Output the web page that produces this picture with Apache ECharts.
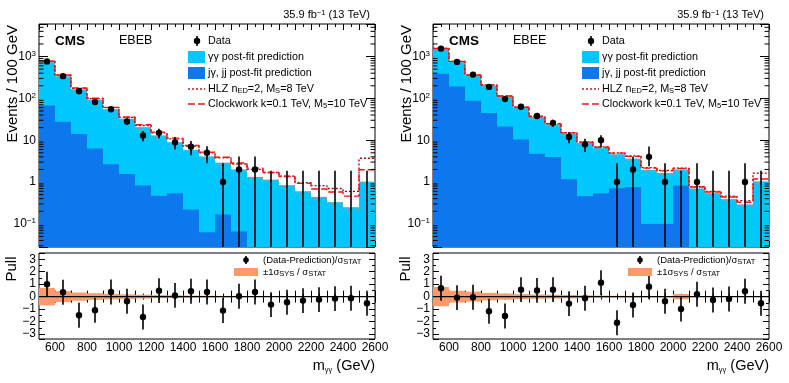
<!DOCTYPE html>
<html>
<head>
<meta charset="utf-8">
<script src="https://cdn.jsdelivr.net/npm/echarts@6/dist/echarts.min.js"></script>
<style>
html,body{margin:0;padding:0;background:#fff;}
#main{width:789px;height:383px;}
</style>
</head>
<body>
<div id="main"></div>
<script>
// lower bin edges, 100 GeV bins from 500 to 2600 GeV
var binLow = [500,600,700,800,900,1000,1100,1200,1300,1400,1500,1600,1700,1800,1900,2000,2100,2200,2300,2400,2500];
var xTicks = [600,800,1000,1200,1400,1600,1800,2000,2200,2400,2600];

// ---- EBEB (left) ----
var ebebData  = [765,340,148,82,55,28,13,15,9,7,5,1,2,2,0,0,0,0,0,0,0];
var ebebLo    = [737,322,136,73,48,23,9.4,11.1,6.0,4.4,2.8,0,0,0,0,0,0,0,0,0,0];
var ebebHi    = [793,358,160,91,62,33.3,16.6,18.9,12.0,9.6,7.2,2.8,4.1,4.1,1.85,1.85,1.85,1.85,1.85,1.85,1.85];
var ebebTotal = [735,340,165,93,55,32.5,20.5,13,8.9,5.8,4.1,2.9,2.0,1.32,1.13,0.84,0.6,0.44,0.33,0.25,1.02];
var ebebJet   = [68,27.5,14,6.3,2.65,1.55,0.83,0.47,0.54,0.22,0.063,0.167,0.066,0,0,0,0,0,0,0,0];
var ebebHLZ   = [772,358,174,99,60,35,22.5,15,10.8,7.2,5.0,3.8,2.7,2.0,1.69,1.38,0.97,0.82,0.7,0.6,3.7];
var ebebCW    = [775,362,177,101,61,36,23.5,15.6,11.2,7.5,5.2,3.9,2.85,2.15,1.69,1.36,0.93,0.68,0.58,0.46,1.96];
var ebebPull  = [1.0,0.35,-1.49,-1.09,0.37,-0.37,-1.63,0.48,0.1,0.43,0.37,-1.12,0.03,0.37,-0.64,-0.45,-0.32,-0.24,-0.16,-0.13,-0.53];
var ebebBand  = [0.7,0.44,0.33,0.27,0.22,0.18,0.15,0.12,0.1,0.08,0.07,0.06,0.05,0.03,0.03,0.02,0.02,0.02,0.02,0.02,0.02];

// ---- EBEE (right) ----
var ebeeData  = [1550,745,370,188,96,63,38,26,12,8,10,1,2,4,1,0,1,0,0,1,0];
var ebeeLo    = [1511,718,351,174,86,55,32,21,8.5,5.2,6.8,0,0,2.4,0,0,0,0,0,0,0];
var ebeeHi    = [1589,772,389,202,106,71,44,31,15.5,10.8,13.2,2.8,4.1,7.1,2.8,1.85,2.8,1.85,1.85,2.8,1.85];
var ebeeTotal = [1520,748,352,204,111,60,36,24,14.5,8.6,6.5,4.6,3.6,1.95,1.65,2.0,0.7,0.54,0.39,0.29,1.03];
var ebeeJet   = [390,192,88,45,21.3,10.4,4.75,3.95,1.16,0.46,0.54,0.71,0.76,0.1,0.1,0.82,0,0,0,0,0];
var ebeeHLZ   = [1565,768,363,210,115,62,37.5,25,15.2,9.1,6.9,5.0,4.2,2.2,1.9,2.15,0.78,0.6,0.46,0.36,1.64];
var ebeeCW    = [1560,765,361,209,114,61.5,37,24.8,15,8.9,6.8,4.9,4.1,2.15,1.85,2.12,0.76,0.58,0.44,0.33,1.18];
var ebeePull  = [0.67,-0.08,-0.05,-1.17,-1.55,0.56,0.5,0.56,-0.56,-0.13,1.12,-2.1,-0.67,0.8,-0.37,-0.99,0.19,-0.27,-0.19,0.43,-0.53];
var ebeeBand  = [0.77,0.47,0.4,0.3,0.25,0.2,0.17,0.15,0.13,0.1,0.08,0.07,0.06,0.05,0.05,0.21,0.02,0.02,0.02,0.02,0.02];

var YMIN = 0.028, YMAX = 6000;
var FONT = 'Liberation Sans, Arial, Helvetica, sans-serif';
var cCyan = '#00c8ff', cBlue = '#0d78ee', cOrange = '#ff9a6a', cHLZ = '#a00000', cCW = '#ff1010';

var myChart = echarts.init(document.getElementById('main'));

var grids = [], xAxes = [], yAxes = [], series = [], graphics = [];

// log minor tick values (2..9 x 10^k) for the top frames
var minorLog = [];
for (var e = -2; e <= 3; e++) {
  for (var m = 2; m <= 9; m++) {
    var t = m * Math.pow(10, e);
    if (t > YMIN && t < YMAX) minorLog.push([t]);
  }
}

function logLabel(v) {
  var l = Math.log(v) / Math.LN10;
  var k = Math.round(l);
  if (Math.abs(l - k) > 1e-6) return '';
  if (k === 0) return '1';
  if (k === 1) return '10';
  return '10{sup|' + (k < 0 ? '\u2212' + (-k) : k) + '}';
}

function histRect(color) {
  return function (params, api) {
    var v = api.value(2);
    if (!(v > 0)) return;
    var p0 = api.coord([api.value(0), v]);
    var p1 = api.coord([api.value(1), YMIN]);
    return {type: 'rect', shape: {x: p0[0], y: p0[1], width: p1[0] - p0[0], height: p1[1] - p0[1]},
            style: {fill: color}};
  };
}

function addPanel(p, left, data, lo, hi, total, jet, hlz, cw, pull, band, label) {
  var gTop = p * 2, gBot = p * 2 + 1;
  grids.push({left: left, top: 24, width: 336, height: 223, show: true, borderColor: '#000', borderWidth: 1, backgroundColor: 'transparent'});
  grids.push({left: left, top: 253, width: 336, height: 86, show: true, borderColor: '#000', borderWidth: 1, backgroundColor: 'transparent'});

  var xBase = {type: 'value', min: 500, max: 2600, interval: 100,
    axisLine: {show: false}, splitLine: {show: false},
    axisTick: {inside: true, length: 6, lineStyle: {color: '#000'}},
    minorTick: {show: true, splitNumber: 2, length: 3, lineStyle: {color: '#000'}}};
  // x axes: top panel bottom/top, pull bottom/top
  xAxes.push(Object.assign({}, xBase, {gridIndex: gTop, position: 'bottom', axisLabel: {show: false}}));
  xAxes.push(Object.assign({}, xBase, {gridIndex: gTop, position: 'top', axisLabel: {show: false}}));
  xAxes.push(Object.assign({}, xBase, {gridIndex: gBot, position: 'bottom',
    axisLabel: {show: true, margin: 3, color: '#000', fontFamily: FONT, fontSize: 12,
      formatter: function (v) { return xTicks.indexOf(v) >= 0 ? String(v) : ''; }}}));
  xAxes.push(Object.assign({}, xBase, {gridIndex: gBot, position: 'top', axisLabel: {show: false}}));

  var yLog = {type: 'log', logBase: 10, min: YMIN, max: YMAX, gridIndex: gTop,
    axisLine: {show: false}, splitLine: {show: false},
    axisTick: {inside: true, length: 9, lineStyle: {color: '#000'}}};
  yAxes.push(Object.assign({}, yLog, {position: 'left',
    axisLabel: {margin: 3, color: '#000', fontFamily: FONT, fontSize: 12, formatter: logLabel,
      rich: {sup: {fontSize: 8, verticalAlign: 'top', padding: [0, 0, 6, 0], fontFamily: FONT, color: '#000'}}}}));
  yAxes.push(Object.assign({}, yLog, {position: 'right', axisLabel: {show: false}}));

  var yPull = {type: 'value', min: -3.4, max: 3.5, splitNumber: 7, gridIndex: gBot,
    axisLine: {show: false}, splitLine: {show: false},
    axisTick: {inside: true, length: 6, lineStyle: {color: '#000'}},
    minorTick: {show: true, splitNumber: 2, length: 3, lineStyle: {color: '#000'}}};
  yAxes.push(Object.assign({}, yPull, {position: 'left',
    axisLabel: {margin: 3, color: '#000', fontFamily: FONT, fontSize: 12,
      formatter: function (v) { return Math.abs(v - Math.round(v)) > 1e-6 ? '' : (v < 0 ? '\u2212' + (-v) : String(v)); }}}));
  yAxes.push(Object.assign({}, yPull, {position: 'right', axisLabel: {show: false}}));

  var xTop = p * 4, xBot = p * 4 + 2;
  var yTop = p * 4, yBot = p * 4 + 2;

  var totData = [], jetData = [], ptData = [], hlzData = [], cwData = [], pullData = [], bandData = [];
  for (var i = 0; i < binLow.length; i++) {
    totData.push([binLow[i], binLow[i] + 100, total[i]]);
    jetData.push([binLow[i], binLow[i] + 100, jet[i]]);
    ptData.push([binLow[i] + 50, data[i], lo[i], hi[i]]);
    hlzData.push([binLow[i], hlz[i]]);
    cwData.push([binLow[i], cw[i]]);
    pullData.push([binLow[i] + 50, pull[i]]);
    bandData.push([binLow[i], binLow[i] + 100, band[i]]);
  }
  hlzData.push([2600, hlz[hlz.length - 1]]);
  cwData.push([2600, cw[cw.length - 1]]);

  series.push({type: 'custom', name: label + ' gg', xAxisIndex: xTop, yAxisIndex: yTop, data: totData,
    encode: {x: [0, 1], y: 2}, renderItem: histRect(cCyan), silent: true, z: 1});
  series.push({type: 'custom', name: label + ' jet', xAxisIndex: xTop, yAxisIndex: yTop, data: jetData,
    encode: {x: [0, 1], y: 2}, renderItem: histRect(cBlue), silent: true, z: 2});
  // grey stat hatch along the top edge of the prediction
  series.push({type: 'custom', name: label + ' hatch', xAxisIndex: xTop, yAxisIndex: yTop, data: totData,
    encode: {x: [0, 1], y: 2}, silent: true, z: 3,
    renderItem: function (params, api) {
      var a = api.coord([api.value(0), api.value(2)]), b = api.coord([api.value(1), api.value(2)]);
      return {type: 'line', shape: {x1: a[0], y1: a[1] + 1, x2: b[0], y2: b[1] + 1},
        style: {stroke: '#9a9a9a', lineWidth: 2.5, lineDash: [1, 1.5]}};
    }});
  series.push({type: 'line', name: label + ' HLZ', xAxisIndex: xTop, yAxisIndex: yTop, data: hlzData, step: 'end',
    symbol: 'none', lineStyle: {color: cHLZ, width: 1.3, type: [2, 2]}, silent: true, z: 4});
  series.push({type: 'line', name: label + ' CW', xAxisIndex: xTop, yAxisIndex: yTop, data: cwData, step: 'end',
    symbol: 'none', lineStyle: {color: cCW, width: 1.4, type: [7, 3]}, silent: true, z: 5});
  // data points with error bars
  series.push({type: 'custom', name: label + ' data', xAxisIndex: xTop, yAxisIndex: yTop, data: ptData,
    encode: {x: 0, y: 3}, silent: true, z: 6,
    renderItem: function (params, api) {
      var x = api.value(0), n = api.value(1);
      var a = api.coord([x, Math.max(api.value(2), YMIN)]);
      var b = api.coord([x, api.value(3)]);
      var kids = [{type: 'line', shape: {x1: a[0], y1: a[1], x2: b[0], y2: b[1]}, style: {stroke: '#000', lineWidth: 1.6}}];
      if (n > 0) {
        var c = api.coord([x, n]);
        kids.push({type: 'circle', shape: {cx: c[0], cy: c[1], r: 3.2}, style: {fill: '#000'}});
      }
      return {type: 'group', children: kids};
    }});
  // log minor ticks on both sides of the top frame
  series.push({type: 'custom', name: label + ' minor', xAxisIndex: xTop, yAxisIndex: yTop, data: minorLog,
    encode: {y: 0}, silent: true, z: 7,
    renderItem: function (params, api) {
      var v = api.value(0);
      var l = api.coord([500, v]), r = api.coord([2600, v]);
      return {type: 'group', children: [
        {type: 'line', shape: {x1: l[0], y1: l[1], x2: l[0] + 4.5, y2: l[1]}, style: {stroke: '#000', lineWidth: 1}},
        {type: 'line', shape: {x1: r[0], y1: r[1], x2: r[0] - 4.5, y2: r[1]}, style: {stroke: '#000', lineWidth: 1}}]};
    }});

  // pull panel
  series.push({type: 'custom', name: label + ' band', xAxisIndex: xBot, yAxisIndex: yBot, data: bandData,
    encode: {x: [0, 1], y: 2}, silent: true, z: 1,
    renderItem: function (params, api) {
      var w = api.value(2);
      var p0 = api.coord([api.value(0), w]);
      var p1 = api.coord([api.value(1), -w]);
      return {type: 'rect', shape: {x: p0[0], y: p0[1], width: p1[0] - p0[0], height: p1[1] - p0[1]}, style: {fill: cOrange}};
    }});
  series.push({type: 'line', name: label + ' zero', xAxisIndex: xBot, yAxisIndex: yBot, data: [[500, 0], [2600, 0]],
    symbol: 'none', lineStyle: {color: '#000', width: 1.2}, silent: true, z: 2});
  series.push({type: 'custom', name: label + ' pull', xAxisIndex: xBot, yAxisIndex: yBot, data: pullData,
    encode: {x: 0, y: 1}, silent: true, z: 5,
    renderItem: function (params, api) {
      var x = api.value(0), v = api.value(1);
      var a = api.coord([x, v - 1]), b = api.coord([x, v + 1]), c = api.coord([x, v]);
      return {type: 'group', children: [
        {type: 'line', shape: {x1: a[0], y1: a[1], x2: b[0], y2: b[1]}, style: {stroke: '#000', lineWidth: 1.6}},
        {type: 'circle', shape: {cx: c[0], cy: c[1], r: 3.2}, style: {fill: '#000'}}]};
    }});

  // texts and legends
  var dx = left - 39;
  var sub = {fontSize: 7.5, verticalAlign: 'bottom', padding: [4, 0, 0, 0], fontFamily: FONT, fill: '#000'};
  var sup = {fontSize: 7.5, verticalAlign: 'top', padding: [0, 0, 5, 0], fontFamily: FONT, fill: '#000'};
  function txt(x, y, s, size, opt) {
    var st = {text: s, x: x, y: y, fill: '#000', font: (opt && opt.bold ? 'bold ' : '') + size + 'px ' + FONT,
      textAlign: (opt && opt.align) || 'left', textVerticalAlign: 'middle', rich: {sub: sub, sup: sup}};
    var g = {type: 'text', style: st, silent: true, z: 100};
    if (opt && opt.rot) { g.rotation = opt.rot; g.x = x; g.y = y; st.x = 0; st.y = 0; }
    graphics.push(g);
  }
  txt(370 + dx, 15, '35.9 fb{sup|\u22121} (13 TeV)', 11, {align: 'right'});
  txt(55 + dx, 41, 'CMS', 13.5, {bold: true});
  txt(119 + dx, 41, label, 12.5);
  txt(13 + dx, 25, 'Events / 100 GeV', 15, {align: 'right', rot: Math.PI / 2});
  txt(12 + dx, 269, 'Pull', 15, {align: 'center', rot: Math.PI / 2});
  txt(375 + dx, 366, 'm{sub|\u03b3\u03b3} (GeV)', 14.5, {align: 'right'});

  // top legend
  graphics.push({type: 'line', shape: {x1: 197 + dx, y1: 36, x2: 197 + dx, y2: 46}, style: {stroke: '#000', lineWidth: 1.6}, z: 100});
  graphics.push({type: 'circle', shape: {cx: 197 + dx, cy: 41, r: 3.2}, style: {fill: '#000'}, z: 100});
  graphics.push({type: 'rect', shape: {x: 188 + dx, y: 51, width: 17, height: 12}, style: {fill: cCyan}, z: 100});
  graphics.push({type: 'rect', shape: {x: 188 + dx, y: 67, width: 17, height: 12}, style: {fill: cBlue}, z: 100});
  graphics.push({type: 'line', shape: {x1: 188 + dx, y1: 89, x2: 205 + dx, y2: 89}, style: {stroke: cHLZ, lineWidth: 1.3, lineDash: [2, 2]}, z: 100});
  graphics.push({type: 'line', shape: {x1: 188 + dx, y1: 104, x2: 205 + dx, y2: 104}, style: {stroke: cCW, lineWidth: 1.4, lineDash: [7, 3]}, z: 100});
  txt(208 + dx, 41, 'Data', 10.8);
  txt(208 + dx, 57, '\u03b3\u03b3 post-fit prediction', 10.8);
  txt(208 + dx, 73, 'j\u03b3, jj post-fit prediction', 10.8);
  txt(208 + dx, 89, 'HLZ n{sub|ED}=2, M{sub|S}=8 TeV', 10.8);
  txt(208 + dx, 104, 'Clockwork k=0.1 TeV, M{sub|5}=10 TeV', 10.8);

  // pull legend
  graphics.push({type: 'line', shape: {x1: 246 + dx, y1: 256, x2: 246 + dx, y2: 264}, style: {stroke: '#000', lineWidth: 1.6}, z: 100});
  graphics.push({type: 'circle', shape: {cx: 246 + dx, cy: 260, r: 2.8}, style: {fill: '#000'}, z: 100});
  graphics.push({type: 'rect', shape: {x: 234 + dx, y: 268, width: 24, height: 8}, style: {fill: cOrange}, z: 100});
  txt(263 + dx, 260, '(Data-Prediction)/\u03c3{sub|STAT}', 9.5);
  txt(263 + dx, 272, '\u00b11\u03c3{sub|SYS} / \u03c3{sub|STAT}', 9.5);
}

addPanel(0, 39, ebebData, ebebLo, ebebHi, ebebTotal, ebebJet, ebebHLZ, ebebCW, ebebPull, ebebBand, 'EBEB');
addPanel(1, 433, ebeeData, ebeeLo, ebeeHi, ebeeTotal, ebeeJet, ebeeHLZ, ebeeCW, ebeePull, ebeeBand, 'EBEE');

var option = {
  animation: false,
  backgroundColor: '#fff',
  textStyle: {fontFamily: FONT},
  grid: grids,
  xAxis: xAxes,
  yAxis: yAxes,
  series: series,
  graphic: graphics
};
myChart.setOption(option, true);
</script>
</body>
</html>
